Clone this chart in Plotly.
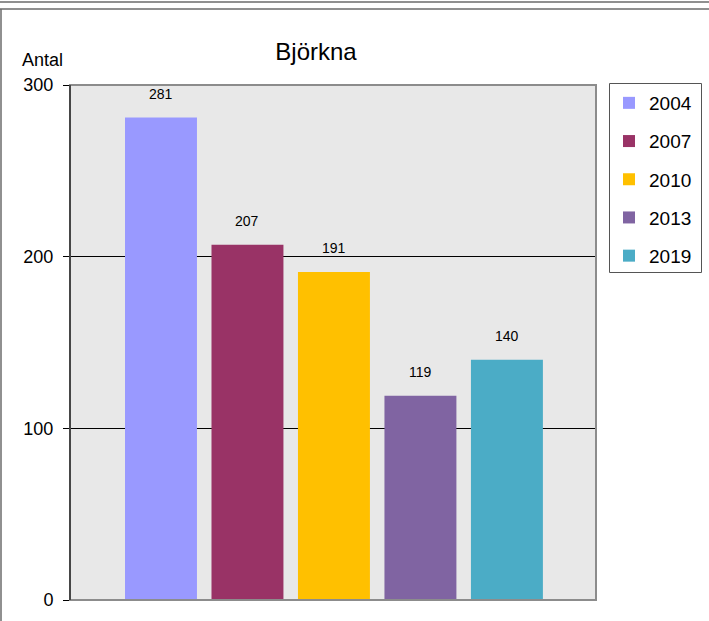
import plotly.graph_objects as go

years = ["2004", "2007", "2010", "2013", "2019"]
values = [281, 207, 191, 119, 140]
colors = ["#9999FF", "#993366", "#FFC000", "#8064A2", "#4BACC6"]
y_ticks = [0, 100, 200, 300]
title_text = "Björkna"
y_title = "Antal"

W, H = 709, 621
L, R, T, B = 70, 113, 85, 21
pw, ph = W - L - R, H - T - B
FONT = "Arial, Liberation Sans"

fig = go.Figure()
for i, (yr, v, c) in enumerate(zip(years, values, colors)):
    fig.add_trace(go.Bar(x=[i], y=[v], name=yr, marker=dict(color=c, line=dict(width=0)),
                         width=0.832, legendgroup=yr, hoverinfo="skip"))
    fig.add_annotation(x=i, y=v, text=str(v), showarrow=False, yanchor="bottom", yshift=14,
                       font=dict(family=FONT, size=14, color="black"))

def px2x(px):
    return (px - L) / pw

def px2y(py):
    return (H - B - py) / ph

shapes = [
    dict(type="line", xref="paper", yref="paper", x0=px2x(0), x1=px2x(W), y0=px2y(2), y1=px2y(2),
         line=dict(color="#6b6b6b", width=1.5)),
    dict(type="line", xref="paper", yref="paper", x0=px2x(0), x1=px2x(W), y0=px2y(9), y1=px2y(9),
         line=dict(color="#6b6b6b", width=1.5)),
    dict(type="line", xref="paper", yref="paper", x0=px2x(1), x1=px2x(1), y0=px2y(9), y1=px2y(H),
         line=dict(color="#6b6b6b", width=1.5)),
    dict(type="rect", xref="paper", yref="paper", x0=0, x1=1, y0=0, y1=1,
         line=dict(color="#8c8c8c", width=2), layer="above"),
    dict(type="line", xref="paper", yref="paper", x0=0, x1=0, y0=0, y1=1,
         line=dict(color="black", width=1), layer="above"),
    dict(type="rect", xref="paper", yref="paper", x0=px2x(609.5), x1=px2x(701.5),
         y0=px2y(272.5), y1=px2y(83.5), line=dict(color="#555555", width=1), layer="above"),
]

fig.add_annotation(xref="paper", yref="paper", x=px2x(42), y=px2y(60), text=y_title, showarrow=False,
                   xanchor="center", yanchor="middle",
                   font=dict(family=FONT, size=18, color="black"))

fig.update_layout(
    width=W, height=H,
    margin=dict(l=L, r=R, t=T, b=B, autoexpand=False),
    paper_bgcolor="white", plot_bgcolor="#E8E8E8",
    barmode="overlay",
    showlegend=True,
    title=dict(text=title_text, x=316 / W, xanchor="center", y=1 - 52 / H, yanchor="middle",
               font=dict(family=FONT, size=24, color="black")),
    legend=dict(x=px2x(609), y=px2y(84), xanchor="left", yanchor="top",
                borderwidth=0, bgcolor="rgba(0,0,0,0)",
                font=dict(family=FONT, size=19, color="black"),
                tracegroupgap=10.5, traceorder="grouped", itemwidth=30),
    xaxis=dict(range=[-1.052, 5.03], showticklabels=False, showgrid=False, zeroline=False,
               ticks="", fixedrange=True),
    yaxis=dict(range=[0, 300], tickvals=y_ticks, showgrid=True, gridcolor="black", gridwidth=1,
               zeroline=False, showline=False, fixedrange=True,
               ticks="outside", ticklen=6, tickcolor="black", ticklabelstandoff=6,
               tickfont=dict(family=FONT, size=18, color="black")),
    shapes=shapes,
)

fig.write_html("out.html", config={"displayModeBar": False},
               post_script="document.body.style.margin='0';document.body.style.padding='0';")
